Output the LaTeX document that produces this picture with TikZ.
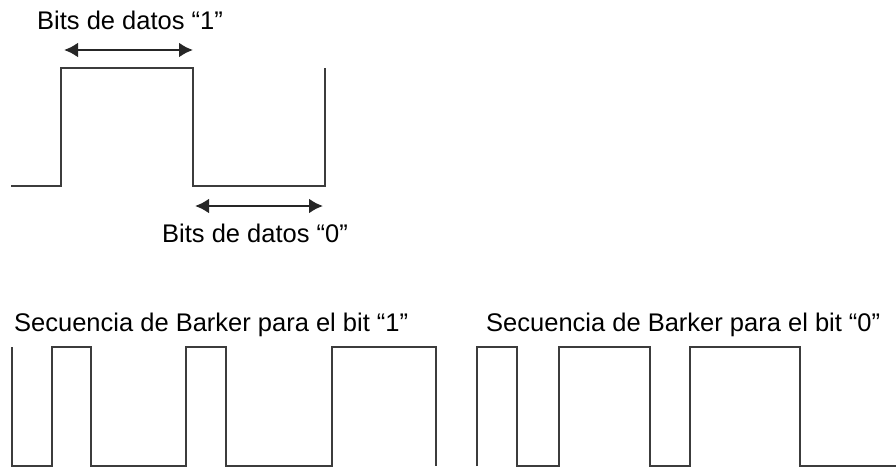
\documentclass[tikz,border=0pt]{standalone}
\usepackage{fontspec}
\setmainfont{Liberation Sans}
\usepackage{xcolor}
\usetikzlibrary{arrows.meta,positioning}
\definecolor{waveline}{RGB}{60,60,60}
\tikzset{
  wave/.style={
    draw=waveline,
    line width=2.5pt,
    line join=miter
  },
  bitlabel/.style={
    anchor=base west,
    inner sep=0pt,
    font=\fontsize{25.5}{30}\selectfont
  },
  bitarrow/.style={
    {Latex[length=14pt,width=15pt]}-{Latex[length=14pt,width=15pt]},
    line width=2.5pt,
    draw=black!85
  }
}
\begin{document}
\begin{tikzpicture}[x=1pt,y=-1pt]
\useasboundingbox (0,0) rectangle (896,468);

% data bits
\draw[wave] (11,186) -- (61,186) -- (61,68) -- (193,68) -- (193,186) -- (325,186) -- (325,68);
\coordinate (onea) at (64,50);
\coordinate (oneb) at (193,50);
\coordinate (zeroa) at (195,206);
\coordinate (zerob) at (323,206);
\node[bitlabel] (onelabel) at (37,30) {Bits de datos “1”};
\node[bitlabel] (zerolabel) at (162,242) {Bits de datos “0”};
\draw[bitarrow] (onea) -- (oneb);
\draw[bitarrow] (zeroa) -- (zerob);

% Barker sequences
\node[bitlabel] (barkerone) at (14,331) {Secuencia de Barker para el bit “1”};
\node[bitlabel] (barkerzero) at (486,331) {Secuencia de Barker para el bit “0”};
\draw[wave] (12,347) -- (12,466) -- (52,466) -- (52,347) -- (91,347) -- (91,466)
  -- (186,466) -- (186,347) -- (226,347) -- (226,466) -- (332,466) -- (332,347)
  -- (436,347) -- (436,466);
\draw[wave] (477,466) -- (477,347) -- (517,347) -- (517,466) -- (559,466) -- (559,347)
  -- (650,347) -- (650,466) -- (690,466) -- (690,347) -- (800,347) -- (800,466)
  -- (896,466);
\end{tikzpicture}
\end{document}
